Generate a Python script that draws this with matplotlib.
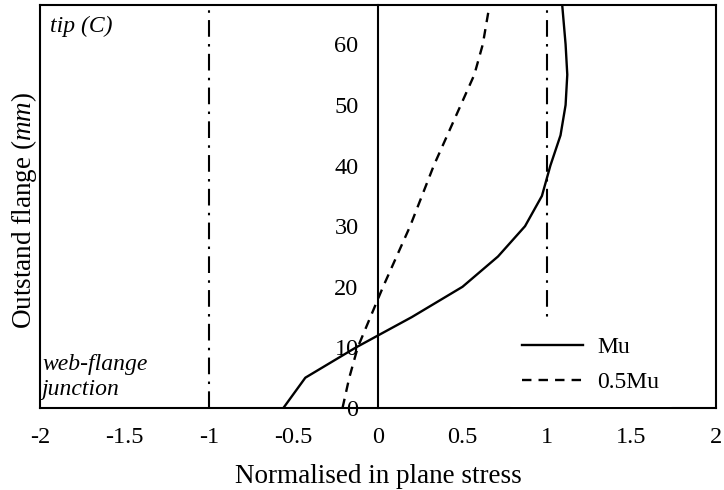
import matplotlib
matplotlib.use("Agg")
import matplotlib.pyplot as plt

plt.rcParams['font.family'] = ['Liberation Serif', 'DejaVu Serif']
plt.rcParams['mathtext.fontset'] = 'custom'
plt.rcParams['mathtext.rm'] = 'Liberation Serif'
plt.rcParams['mathtext.it'] = 'Liberation Serif:italic'

# distance along outstand flange (mm)
flange_pos = [0, 5, 10, 15, 20, 25, 30, 35, 40, 45, 50, 55, 60, 66.5]
# normalised in plane stress
stress_mu = [-0.56, -0.43, -0.13, 0.20, 0.50, 0.71, 0.87, 0.97, 1.02, 1.08, 1.11, 1.12, 1.11, 1.09]
stress_half_mu = [-0.21, -0.17, -0.12, -0.045, 0.03, 0.11, 0.19, 0.26, 0.33, 0.41, 0.49, 0.57, 0.62, 0.66]
yield_lines = [-1, 1]
x_ticks = [-2, -1.5, -1, -0.5, 0, 0.5, 1, 1.5, 2]
x_ticklabels = ['-2', '-1.5', '-1', '-0.5', '0', '0.5', '1', '1.5', '2']
y_ticks = [0, 10, 20, 30, 40, 50, 60]

fig = plt.figure(figsize=(7.24, 4.9), dpi=100)
ax = fig.add_axes([40/724, 82/490, 676/724, 403/490])

for xv in yield_lines:
    ax.axvline(xv, color='black', lw=1.5, linestyle=(0, (8, 3.5, 1.2, 3.5)), zorder=1)

ax.plot(stress_mu, flange_pos, color='black', lw=1.7, label='Mu', zorder=3)
ax.plot(stress_half_mu, flange_pos, color='black', lw=1.7, linestyle=(0, (4, 3)),
        label='0.5Mu', zorder=3)

ax.set_xlim(-2, 2)
ax.set_ylim(0, 66.5)

# centre spine carries the y tick labels, outer box drawn by the other spines
ax.spines['left'].set_position(('data', 0))
for s in ax.spines.values():
    s.set_linewidth(1.5)
ax.plot([0, 0], [0, 1], transform=ax.transAxes, color='black', lw=1.5, clip_on=False)

ax.set_xticks(x_ticks)
ax.set_xticklabels(x_ticklabels)
ax.set_yticks(y_ticks)
ax.tick_params(axis='both', length=0, labelsize=17.5)
ax.tick_params(axis='x', pad=14)
ax.tick_params(axis='y', pad=14)

ax.set_xlabel('Normalised in plane stress', fontsize=19.5, labelpad=11)
fig.text(24/724, (490 - 210)/490, 'Outstand flange ($\\mathit{mm}$)', rotation=90,
         ha='center', va='center', fontsize=19.5)

ax.text(0.015, 0.973, 'tip (C)', transform=ax.transAxes, fontsize=17,
        style='italic', ha='left', va='top')
ax.text(0.003, 0.02, 'web-flange\njunction', transform=ax.transAxes, fontsize=17,
        style='italic', ha='left', va='bottom', linespacing=1.25)

leg = ax.legend(loc='upper left', bbox_to_anchor=(0.692, 0.213), borderaxespad=0,
                frameon=True, fontsize=17, handlelength=2.6, handletextpad=0.6,
                labelspacing=0.58, borderpad=0.6)
leg.get_frame().set_edgecolor('none')
leg.get_frame().set_facecolor('white')
leg.get_frame().set_alpha(1)

fig.savefig('out.png', dpi=100)
